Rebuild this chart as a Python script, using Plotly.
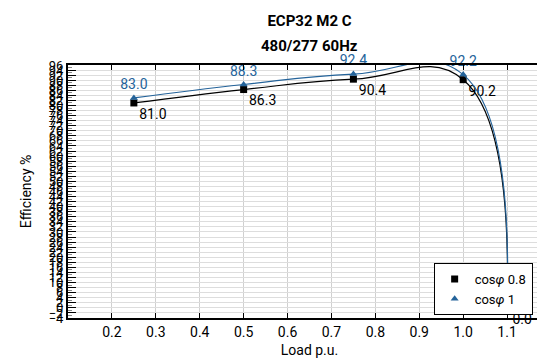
import plotly.graph_objects as go

# Datos
carga = [0.25, 0.5, 0.75, 1.0, 1.1]
ef_cos08 = [81.0, 86.3, 90.4, 90.2, 0.0]
ef_cos1 = [83.0, 88.3, 92.4, 92.2, 0.0]
x_ticks = [0.2, 0.3, 0.4, 0.5, 0.6, 0.7, 0.8, 0.9, 1.0, 1.1]
y_ticks = list(range(-4, 97, 2))

azul = '#24639a'
fuente = 'Roboto'

fig = go.Figure()

# Curvas con marcadores y etiquetas (sin leyenda)
fig.add_trace(go.Scatter(
    x=carga, y=ef_cos08,
    mode='lines+markers+text',
    showlegend=False,
    line=dict(color='black', width=1.2, shape='spline', smoothing=1.3),
    marker=dict(symbol='square', size=7, color='black'),
    text=[f'{v:.1f}' for v in ef_cos08],
    textposition='bottom right',
    textfont=dict(color='black', size=14, family=fuente),
    cliponaxis=False,
))

fig.add_trace(go.Scatter(
    x=carga, y=ef_cos1,
    mode='lines+markers+text',
    showlegend=False,
    line=dict(color=azul, width=1.2, shape='spline', smoothing=1.3),
    marker=dict(symbol='triangle-up', size=7, color=azul),
    text=[f'{v:.1f}' for v in ef_cos1],
    textposition='top center',
    textfont=dict(color=azul, size=14, family=fuente),
    cliponaxis=False,
))

# Entradas de leyenda (solo marcador)
fig.add_trace(go.Scatter(
    x=[None], y=[None], mode='markers', name='cos<i>φ</i> 0.8',
    marker=dict(symbol='square', size=7, color='black'),
))
fig.add_trace(go.Scatter(
    x=[None], y=[None], mode='markers', name='cos<i>φ</i> 1',
    marker=dict(symbol='triangle-up', size=7, color=azul),
))

fig.update_layout(
    width=545, height=363,
    margin=dict(l=60, r=0, t=57, b=53),
    paper_bgcolor='white', plot_bgcolor='white',
    font=dict(family=fuente, size=12, color='black'),
    title=dict(
        text='<b>ECP32 M2 C</b>',
        x=0.5, xref='paper', y=1 - 13 / 363, yanchor='middle',
        font=dict(size=15, family=fuente, color='black'),
    ),
    annotations=[dict(
        text='<b>480/277 60Hz</b>', x=0.5, y=1 + 19 / 253,
        xref='paper', yref='paper', xanchor='center', yanchor='middle',
        showarrow=False, font=dict(size=15, family=fuente, color='black'),
    )],
    legend=dict(
        x=0.962, y=0.012, xanchor='right', yanchor='bottom',
        bgcolor='white', bordercolor='black', borderwidth=1,
        font=dict(size=13, family=fuente),
        itemwidth=30,
    ),
)

fig.update_xaxes(
    range=[0.1, 1.2],
    tickvals=x_ticks, ticktext=[f'{v:.1f}' for v in x_ticks],
    ticks='inside', ticklen=5, tickcolor='black',
    showline=True, linecolor='black', linewidth=2, mirror='allticks',
    showgrid=True, gridcolor='#d0d0d0', gridwidth=1,
    zeroline=False,
    title=dict(text='Load p.u.', font=dict(size=14), standoff=6),
    tickfont=dict(size=14),
)

fig.update_yaxes(
    range=[-4, 96],
    tickvals=y_ticks,
    ticks='inside', ticklen=8, tickcolor='black',
    minor=dict(ticks='inside', ticklen=4, tickcolor='#888888', dtick=1, showgrid=False),
    showline=True, linecolor='black', linewidth=2, mirror='allticks',
    showgrid=True, gridcolor='#dddddd', gridwidth=1,
    zeroline=False,
    title=dict(text='Efficiency %', font=dict(size=14), standoff=14),
    tickfont=dict(size=13),
)

fig.write_html('out.html')
